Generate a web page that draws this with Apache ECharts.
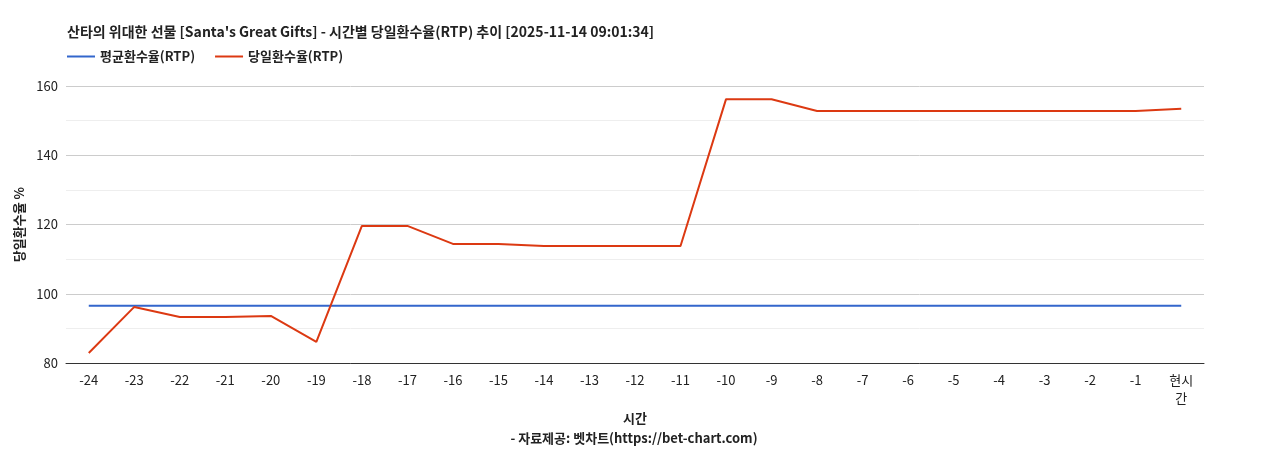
<!DOCTYPE html>
<html><head><meta charset="utf-8">
<script src="https://cdn.jsdelivr.net/npm/echarts@6/dist/echarts.min.js"></script>
<style>html,body{margin:0;padding:0;background:#fff}#main{width:1268px;height:450px}</style>
</head><body><div id="main"></div>
<script>
var categories = ['-24','-23','-22','-21','-20','-19','-18','-17','-16','-15','-14','-13','-12','-11','-10','-9','-8','-7','-6','-5','-4','-3','-2','-1','현시\n간'];
var avgRtp = [96.5,96.5,96.5,96.5,96.5,96.5,96.5,96.5,96.5,96.5,96.5,96.5,96.5,96.5,96.5,96.5,96.5,96.5,96.5,96.5,96.5,96.5,96.5,96.5,96.5];
var dayRtp = [82.9,96.2,93.3,93.3,93.6,86.1,119.6,119.6,114.4,114.4,113.8,113.8,113.8,113.8,156.2,156.2,152.8,152.8,152.8,152.8,152.8,152.8,152.8,152.8,153.4];
var font = '"Noto Sans CJK KR", sans-serif';
var chart = echarts.init(document.getElementById('main'));
chart.setOption({
  animation: false,
  textStyle: {fontFamily: font},
  title: [
    {text: "산타의 위대한 선물 [Santa's Great Gifts] - 시간별 당일환수율(RTP) 추이 [2025-11-14 09:01:34]", left: 62, top: 20,
     textStyle: {fontSize: 14, fontWeight: 'bold', color: '#222', fontFamily: font}},
    {text: '- 자료제공: 벳차트(https://bet-chart.com)', left: 'center', top: 427,
     textStyle: {fontSize: 13, fontWeight: 'bold', color: '#222', fontFamily: font}}
  ],
  legend: {left: 62, top: 45, itemWidth: 28, itemHeight: 2, itemGap: 20, icon: 'rect',
    textStyle: {fontSize: 13, fontWeight: 'bold', color: '#222'},
    data: ['평균환수율(RTP)', '당일환수율(RTP)']},
  grid: {left: 66, right: 64, top: 86, bottom: 87},
  xAxis: {type: 'category', data: categories, boundaryGap: true,
    name: '시간', nameLocation: 'middle', nameGap: 44,
    nameTextStyle: {fontSize: 13, fontWeight: 'bold', color: '#222'},
    axisLine: {lineStyle: {color: '#333'}}, axisTick: {show: false},
    axisLabel: {color: '#222', fontSize: 13, interval: 0, lineHeight: 18}},
  yAxis: {type: 'value', min: 80, max: 160, interval: 20,
    name: '당일환수율 %', nameLocation: 'middle', nameGap: 36,
    nameTextStyle: {fontSize: 13, fontWeight: 'bold', color: '#222'},
    axisLabel: {color: '#222', fontSize: 13},
    splitLine: {lineStyle: {color: '#ccc'}},
    minorTick: {show: false, splitNumber: 2},
    minorSplitLine: {show: true, lineStyle: {color: '#eee'}}},
  series: [
    {name: '평균환수율(RTP)', type: 'line', data: avgRtp, symbol: 'none', color: '#3366cc', lineStyle: {width: 2}},
    {name: '당일환수율(RTP)', type: 'line', data: dayRtp, symbol: 'none', color: '#dc3912', lineStyle: {width: 2}}
  ]
});
</script></body></html>
